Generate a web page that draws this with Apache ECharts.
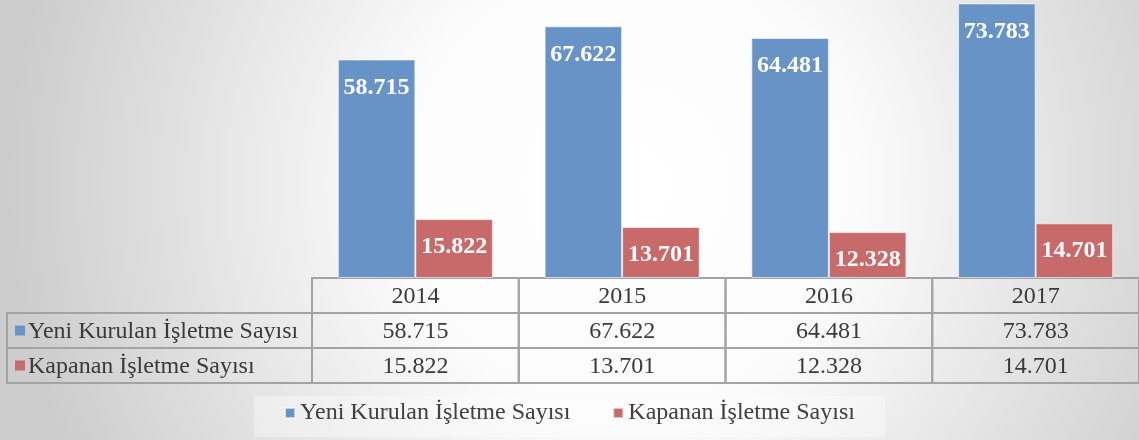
<!DOCTYPE html>
<html><head><meta charset="utf-8">
<script src="https://cdn.jsdelivr.net/npm/echarts@6/dist/echarts.min.js"></script>
<style>html,body{margin:0;padding:0;}#c{width:1139px;height:440px;}</style>
</head><body><div id="c"></div>
<script>
const years = ['2014', '2015', '2016', '2017'];
const seriesNames = ['Yeni Kurulan İşletme Sayısı', 'Kapanan İşletme Sayısı'];
const yeniValues = [58715, 67622, 64481, 73783];
const kapananValues = [15822, 13701, 12328, 14701];
const colors = ['#6893C6', '#C8696A'];

function fmt(v) { return String(v).replace(/\B(?=(\d{3})+(?!\d))/g, '.'); }
const serif = '"Liberation Serif", "Times New Roman", serif';

const rowsKeys = ['head', 'r1', 'r2'];
const tableCells = [];
years.forEach((y, i) => {
  tableCells.push([i, 0, y, -1]);
  tableCells.push([i, 1, fmt(yeniValues[i]), 0]);
  tableCells.push([i, 2, fmt(kapananValues[i]), 1]);
});
const labelCells = seriesNames.map((n, k) => [0, k, n, k]);

const chart = echarts.init(document.getElementById('c'));
chart.setOption({
  backgroundColor: {
    type: 'radial', x: 0.55, y: 0.42, r: 1.4,
    colorStops: [{ offset: 0, color: '#ffffff' }, { offset: 0.38, color: '#fbfbfb' }, { offset: 1, color: '#cdcdcd' }]
  },
  animation: false,
  legend: {
    data: seriesNames, left: 'center', top: 396, itemWidth: 10, itemHeight: 10, itemGap: 42, icon: 'rect',
    textStyle: { fontFamily: serif, fontSize: 24, color: '#404040' },
    backgroundColor: 'rgba(255,255,255,0.35)', padding: [5, 30, 12, 30]
  },
  grid: [
    { left: 312, right: -5, top: 0, bottom: 162 },
    { left: 312, right: -5, top: 278, height: 105 },
    { left: 7, width: 305, top: 313, height: 70 }
  ],
  xAxis: [
    { gridIndex: 0, type: 'category', data: years, axisLine: { lineStyle: { color: '#5a5a5a', width: 2 } }, axisTick: { show: false }, axisLabel: { show: false } },
    { gridIndex: 1, type: 'category', data: years, show: false },
    { gridIndex: 2, type: 'category', data: ['x'], show: false }
  ],
  yAxis: [
    { gridIndex: 0, type: 'value', min: 0, max: 74700, show: false, splitLine: { show: false } },
    { gridIndex: 1, type: 'category', data: rowsKeys, inverse: true, show: false },
    { gridIndex: 2, type: 'category', data: ['r1', 'r2'], inverse: true, show: false }
  ],
  series: [
    {
      name: seriesNames[0], type: 'bar', data: yeniValues, barGap: '0%', barCategoryGap: '25%',
      itemStyle: { color: colors[0], borderColor: 'rgba(255,255,255,0.6)', borderWidth: 1 },
      label: { show: true, position: 'insideTop', distance: 16, formatter: p => fmt(p.value), color: '#fff', fontFamily: serif, fontWeight: 'bold', fontSize: 24 }
    },
    {
      name: seriesNames[1], type: 'bar', data: kapananValues,
      itemStyle: { color: colors[1], borderColor: 'rgba(255,255,255,0.6)', borderWidth: 1 },
      label: { show: true, position: 'insideTop', distance: 16, formatter: p => fmt(p.value), color: '#fff', fontFamily: serif, fontWeight: 'bold', fontSize: 24 }
    },
    {
      type: 'custom', xAxisIndex: 1, yAxisIndex: 1, data: tableCells, silent: true,
      renderItem: function (params, api) {
        const c = api.coord([api.value(0), api.value(1)]);
        const s = api.size([1, 1]);
        const d = tableCells[params.dataIndex];
        return {
          type: 'group', children: [
            { type: 'rect', shape: { x: c[0] - s[0] / 2, y: c[1] - s[1] / 2, width: s[0], height: s[1] }, style: { fill: 'none', stroke: '#a3a3a3', lineWidth: 2 } },
            { type: 'text', style: { x: c[0], y: c[1] + 1, text: d[2], align: 'center', verticalAlign: 'middle', fill: '#3a3a3a', font: '24px ' + serif } }
          ]
        };
      }
    },
    {
      type: 'custom', xAxisIndex: 2, yAxisIndex: 2, data: labelCells, silent: true,
      renderItem: function (params, api) {
        const c = api.coord([0, api.value(1)]);
        const s = api.size([1, 1]);
        const d = labelCells[params.dataIndex];
        const x0 = c[0] - s[0] / 2, y0 = c[1] - s[1] / 2;
        return {
          type: 'group', children: [
            { type: 'rect', shape: { x: x0, y: y0, width: s[0], height: s[1] }, style: { fill: 'none', stroke: '#a3a3a3', lineWidth: 2 } },
            { type: 'rect', shape: { x: x0 + 8, y: c[1] - 5, width: 10, height: 10 }, style: { fill: colors[d[3]] } },
            { type: 'text', style: { x: x0 + 21, y: c[1] + 1, text: d[2], align: 'left', verticalAlign: 'middle', fill: '#3a3a3a', font: '24px ' + serif } }
          ]
        };
      }
    }
  ]
});
</script></body></html>
